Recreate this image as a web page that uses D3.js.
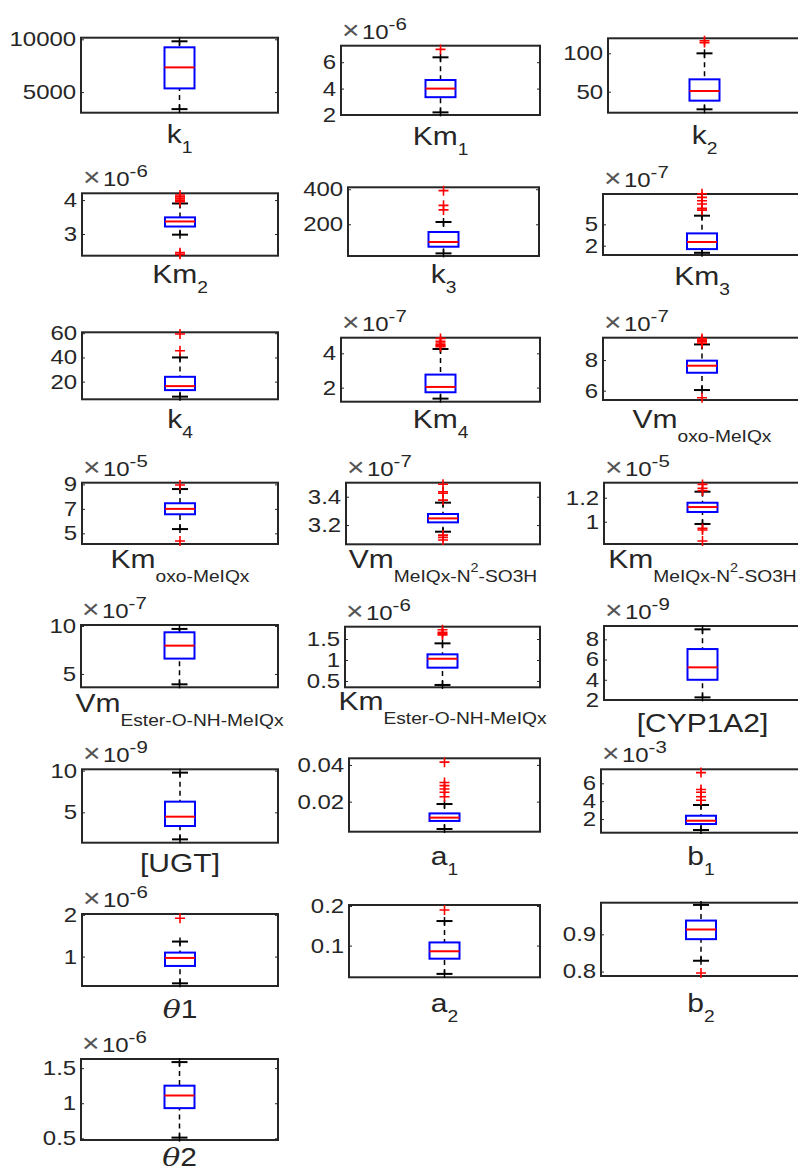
<!DOCTYPE html>
<html><head><meta charset="utf-8">
<script src="https://cdn.jsdelivr.net/npm/d3@7"></script>
<style>body{margin:0;background:#fff}svg{display:block}</style>
</head><body>
<svg id="c" width="798" height="1169"></svg>
<script>
// ---------- DATA ----------
const names = ["k1","Km1","k2","Km2","k3","Km3","k4","Km4","Vm_oxo","Km_oxo","Vm_N2","Km_N2",
  "Vm_Ester","Km_Ester","CYP1A2","UGT","a1","b1","theta1","a2","b2","theta2"];
// label parts: [text, kind] kind: n normal, b subscript, p superscript-in-subscript, i italic
const labelParts = [
  [["k","n"],["1","b"]],
  [["Km","n"],["1","b"]],
  [["k","n"],["2","b"]],
  [["Km","n"],["2","b"]],
  [["k","n"],["3","b"]],
  [["Km","n"],["3","b"]],
  [["k","n"],["4","b"]],
  [["Km","n"],["4","b"]],
  [["Vm","n"],["oxo-MeIQx","b"]],
  [["Km","n"],["oxo-MeIQx","b"]],
  [["Vm","n"],["MeIQx-N","b"],["2","p"],["-SO3H","b"]],
  [["Km","n"],["MeIQx-N","b"],["2","p"],["-SO3H","b"]],
  [["Vm","n"],["Ester-O-NH-MeIQx","b"]],
  [["Km","n"],["Ester-O-NH-MeIQx","b"]],
  [["[CYP1A2]","n"]],
  [["[UGT]","n"]],
  [["a","n"],["1","b"]],
  [["b","n"],["1","b"]],
  [["θ","i"],["1","n"]],
  [["a","n"],["2","b"]],
  [["b","n"],["2","b"]],
  [["θ","i"],["2","n"]]
];
const exponents = [null,-6,null,-6,null,-7,null,-7,-7,-5,-7,-5,-7,-6,-9,-9,null,-3,-6,null,null,-6];
const yLims = [
  [3050,10150],[2.0,7.25],[22.6,119.6],
  [2.36,4.2],[19,411],[0.69,9.27],
  [5.4,60.8],[1.18,4.91],[5.39,9.46],
  [4.13,9.14],[3.064,3.499],[0.814,1.325],
  [3.61,10.1],[0.349,1.794],[2.0,9.32],
  [1.36,10.16],[0.00364,0.0436],[0.47,7.57],
  [0.296,2.02],[0.02,0.2025],[0.788,0.985],
  [0.476,1.63]
];
const yTicks = [
  [5000,10000],[2,4,6],[50,100],
  [3,4],[200,400],[2,5],
  [20,40,60],[2,4],[6,8],
  [5,7,9],[3.2,3.4],[1,1.2],
  [5,10],[0.5,1,1.5],[2,4,6,8],
  [5,10],[0.02,0.04],[2,4,6],
  [1,2],[0.1,0.2],[0.8,0.9],
  [0.5,1,1.5]
];
const whiskerLow  = [3390,2.2,27.0, 2.98,34,1.0, 7.6,1.36,6.04, 5.35,3.153,0.981, 3.92,0.405,2.26, 1.76,0.0051,0.77, 0.36,0.0286,0.829, 0.51];
const q1          = [5350,3.35,38.3, 3.22,72,1.52, 13,1.73,7.17, 6.56,3.219,1.081, 6.6,0.817,4.0, 3.36,0.0095,1.44, 0.776,0.067,0.887, 0.93];
const medians     = [7340,4.0,50.9, 3.37,99,2.52, 16.3,2.04,7.63, 7.0,3.247,1.122, 7.95,1.03,5.23, 4.48,0.0113,1.81, 0.968,0.0857,0.913, 1.11];
const q3          = [9240,4.65,66.1, 3.49,156,3.73, 24,2.76,7.96, 7.46,3.278,1.158, 9.34,1.135,7.04, 6.28,0.0136,2.37, 1.096,0.108,0.937, 1.25];
const whiskerHigh = [9810,6.37,100, 3.9,213,6.22, 40,4.25,9.02, 8.62,3.358,1.25, 9.69,1.397,8.99, 9.76,0.0187,3.57, 1.36,0.162,0.979, 1.586];
const outliers = [
  [],[6.97],[114,116.5],
  [3.95,4.0,4.05,4.1,4.15,2.45,2.4],[282,308,392],[7.0,7.25,7.86,8.33,8.8,9.3],
  [45.6,59.4],[4.38,4.45,4.5,4.6,4.7,4.87],[5.54,9.1,9.2,9.3,9.4],
  [4.38,8.95],[3.376,3.424,3.435,3.488,3.129,3.113,3.094],[1.258,1.278,1.311,0.944,0.931,0.839],
  [],[1.6,1.63,1.66,1.72],[],
  [],[0.0227,0.0251,0.0269,0.0287,0.0304,0.0415],[4.1,4.5,5.0,5.3,7.2],
  [1.92],[0.19],[0.796],
  []
];

// ---------- LAYOUT ----------
const frames = [ // [x0,x1,y0,y1]
  [81,278,37.7,112.7],[341,540,45.7,115],[608,801,38.3,112.7],
  [82,278,193.3,255.7],[348,539,187.3,256],[603,801,194,255],
  [82,278,332.3,399.3],[341,540,337.7,401.7],[603,801,337.7,400],
  [82,278,482.7,544],[346,540,482.7,544.3],[604,801,482.7,544],
  [81,278,625,687.3],[345,540,626.7,687.3],[604,801,626,700],
  [82,278,769.3,842.7],[349,540,758.3,831.7],[601,801,769.3,832.7],
  [82,278,914,986],[349,540,905,977.3],[601,801,902.7,976],
  [81,278,1059,1140]
];
const labelBase = [143.3,145,144, 283.3,283.3,285, 428.3,428.3,428.3, 568.3,568.3,568.3,
  711.7,710,731.7, 871.7,865,865, 1018.3,1011.7,1011.7, 1166];

const SX = 1.2;           // horizontal text stretch
const INK = "#262626";
const svg = d3.select("#c").style("font-family","'Liberation Sans', Arial, Helvetica, sans-serif");

names.forEach((n,i)=>{
  const [x0,x1,y0,y1] = frames[i];
  const g = svg.append("g");
  const y = d3.scaleLinear().domain(yLims[i]).range([y1,y0]);
  const x = d3.scalePoint().domain([n]).range([x0,x1]).padding(0.5);
  const cx = x(n), hw = 15, cw = 8;

  // frame
  g.append("rect").attr("x",x0).attr("y",y0).attr("width",x1-x0).attr("height",y1-y0)
    .attr("fill","none").attr("stroke",INK).attr("stroke-width",2);

  // left axis
  const ax = g.append("g").attr("transform",`translate(${x0},0)`)
    .call(d3.axisLeft(y).tickValues(yTicks[i]).tickSize(-3).tickPadding(4).tickFormat(v=>String(v)));
  ax.select(".domain").remove();
  ax.selectAll("line").attr("stroke",INK).attr("stroke-width",1);
  ax.selectAll("text").attr("fill",INK).attr("font-size",20).attr("font-family",null)
    .attr("transform",`scale(${SX},1)`);
  // right axis ticks
  const ar = g.append("g").attr("transform",`translate(${x1},0)`)
    .call(d3.axisRight(y).tickValues(yTicks[i]).tickSize(-3).tickFormat(""));
  ar.select(".domain").remove();
  ar.selectAll("line").attr("stroke",INK).attr("stroke-width",1);

  // whiskers
  [[whiskerLow[i],q1[i]],[whiskerHigh[i],q3[i]]].forEach(([w,b])=>{
    g.append("line").attr("x1",cx).attr("x2",cx).attr("y1",y(w)).attr("y2",y(b))
      .attr("stroke","#000").attr("stroke-width",1.5).attr("stroke-dasharray","5,4");
    g.append("line").attr("x1",cx-cw).attr("x2",cx+cw).attr("y1",y(w)).attr("y2",y(w))
      .attr("stroke","#000").attr("stroke-width",2);
    g.append("line").attr("x1",cx).attr("x2",cx).attr("y1",y(w)-4).attr("y2",y(w)+4)
      .attr("stroke","#000").attr("stroke-width",1.5);
  });
  // box
  g.append("rect").attr("x",cx-hw).attr("width",2*hw).attr("y",y(q3[i])).attr("height",y(q1[i])-y(q3[i]))
    .attr("fill","#fff").attr("stroke","#0000ff").attr("stroke-width",2);
  g.append("line").attr("x1",cx-hw).attr("x2",cx+hw).attr("y1",y(medians[i])).attr("y2",y(medians[i]))
    .attr("stroke","#ff0000").attr("stroke-width",2);
  // outliers
  outliers[i].forEach(v=>{
    const py = y(v);
    g.append("path").attr("d",`M${cx-5},${py}H${cx+5}M${cx},${py-5}V${py+5}`)
      .attr("stroke","#ff0000").attr("stroke-width",1.6).attr("fill","none");
  });

  // exponent
  if(exponents[i]!==null){
    const t = g.append("text").attr("transform",`translate(${x0+1},${y0-7}) scale(${SX},1)`)
      .attr("fill",INK).attr("font-size",20);
    t.append("tspan").text("×").attr("font-size",25).attr("fill","#555");
    t.append("tspan").attr("dx",2).text("10");
    t.append("tspan").attr("dy",-9).attr("font-size",17).text(String(exponents[i]));
  }

  // x label
  const lt = g.append("text").attr("transform",`translate(${(x0+x1)/2},${labelBase[i]}) scale(${SX},1)`)
    .attr("text-anchor","middle").attr("fill",INK).attr("font-size",25);
  let cur = 0;
  labelParts[i].forEach(([t,k])=>{
    let target = 0, fs = 25, style = null;
    if(k==="b"){ target = t.length>1 ? 14 : 10; fs = 16; }
    if(k==="p"){ target = 4; fs = 12; }
    if(k==="i"){ style = "italic"; }
    const sp = lt.append("tspan").text(t).attr("font-size",fs).attr("dy",target-cur);
    if(style) sp.attr("font-style",style).attr("font-family","'DejaVu Serif', serif");
    cur = target;
  });
});
</script>
</body></html>
